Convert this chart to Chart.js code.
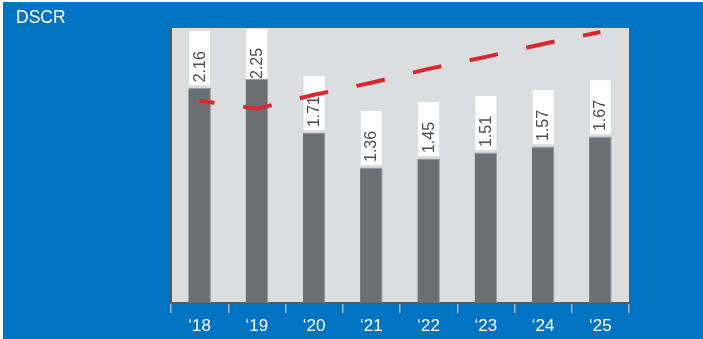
<!DOCTYPE html>
<html>
<head>
<meta charset="utf-8">
<script src="https://cdn.jsdelivr.net/npm/chart.js@4"></script>
<style>
  html, body { margin: 0; padding: 0; background: #fff; }
  canvas { display: block; }
</style>
</head>
<body>
<canvas id="dscrChart" width="703" height="339"></canvas>
<script>
// Chart data
const years = ['\u201818', '\u201819', '\u201820', '\u201821', '\u201822', '\u201823', '\u201824', '\u201825'];
const dscrValues = [2.16, 2.25, 1.71, 1.36, 1.45, 1.51, 1.57, 1.67];
const trendValues = [2.03, 1.95, 2.09, 2.21, 2.35, 2.47, 2.60, 2.72];
const chartTitle = 'DSCR';

const FONT = "'Liberation Sans', Arial, Helvetica, sans-serif";

// Background, plot area, left axis line and title
const backgroundPlugin = {
  id: 'background',
  beforeDraw(chart) {
    const { ctx, chartArea } = chart;
    ctx.save();
    ctx.fillStyle = '#ffffff';
    ctx.fillRect(0, 0, chart.width, chart.height);
    ctx.fillStyle = '#0074C3';
    ctx.fillRect(3, 2, chart.width - 3, chart.height - 2);
    ctx.fillStyle = '#DCDDDF';
    ctx.fillRect(chartArea.left, chartArea.top, chartArea.right - chartArea.left, chartArea.bottom - chartArea.top);
    ctx.fillStyle = '#58595B';
    ctx.fillRect(chartArea.left - 1, chartArea.top, 2, chartArea.bottom - chartArea.top);
    ctx.fillStyle = '#ffffff';
    ctx.font = '17.5px ' + FONT;
    ctx.textBaseline = 'alphabetic';
    ctx.fillText(chartTitle, 16, 23);
    ctx.restore();
  }
};

// White boxes with rotated value labels above each bar
const valueLabelPlugin = {
  id: 'valueLabels',
  afterDatasetDraw(chart, args) {
    if (args.index !== 0) return;
    const { ctx, chartArea } = chart;
    const meta = chart.getDatasetMeta(0);
    ctx.save();
    ctx.beginPath();
    ctx.rect(chartArea.left, chartArea.top, chartArea.right - chartArea.left, chartArea.bottom - chartArea.top);
    ctx.clip();
    meta.data.forEach((bar, i) => {
      const boxW = 21;
      const boxH = 54;
      let boxBottom = bar.y - 2.5;
      let boxTop = boxBottom - boxH;
      let textBottom = boxBottom - 3;
      if (boxTop < chartArea.top + 1) {
        boxTop = chartArea.top + 1;
        boxBottom = Math.min(boxTop + boxH, bar.y);
        textBottom = boxTop + 50;
      }
      ctx.fillStyle = '#ffffff';
      ctx.fillRect(bar.x - boxW / 2, boxTop, boxW, boxBottom - boxTop);
      ctx.save();
      ctx.translate(bar.x + 0.5, textBottom);
      ctx.rotate(-Math.PI / 2);
      ctx.fillStyle = '#4D4D4F';
      ctx.font = '16px ' + FONT;
      ctx.textAlign = 'left';
      ctx.textBaseline = 'middle';
      ctx.fillText(dscrValues[i].toFixed(2), 0, 0);
      ctx.restore();
    });
    ctx.restore();
  }
};

new Chart(document.getElementById('dscrChart'), {
  data: {
    labels: years,
    datasets: [
      {
        type: 'bar',
        data: dscrValues,
        backgroundColor: '#6D6E71',
        borderColor: '#9C9DA0',
        borderWidth: { top: 1, left: 0, right: 1, bottom: 0 },
        categoryPercentage: 1,
        barPercentage: 0.395,
        order: 1
      },
      {
        type: 'line',
        data: trendValues,
        borderColor: '#D7282F',
        borderWidth: 4,
        borderDash: [29, 29],
        borderDashOffset: 14,
        pointRadius: 0,
        tension: 0,
        fill: false,
        order: 0
      }
    ]
  },
  options: {
    responsive: false,
    animation: false,
    devicePixelRatio: 1,
    layout: { padding: { left: 171, right: 74, top: 28, bottom: 0 } },
    plugins: {
      legend: { display: false },
      tooltip: { enabled: false }
    },
    scales: {
      x: {
        offset: true,
        afterFit(scale) { scale.height = 36; },
        grid: {
          display: true,
          offset: true,
          drawOnChartArea: false,
          drawTicks: true,
          tickLength: 10,
          color: '#AEB7C3',
          lineWidth: 1.5
        },
        border: { display: true, color: '#58595B', width: 2 },
        ticks: {
          color: '#ffffff',
          font: { family: FONT, size: 17 },
          padding: 3,
          maxRotation: 0
        }
      },
      y: {
        display: false,
        min: 0,
        max: 2.76
      }
    }
  },
  plugins: [backgroundPlugin, valueLabelPlugin]
});
</script>
</body>
</html>
